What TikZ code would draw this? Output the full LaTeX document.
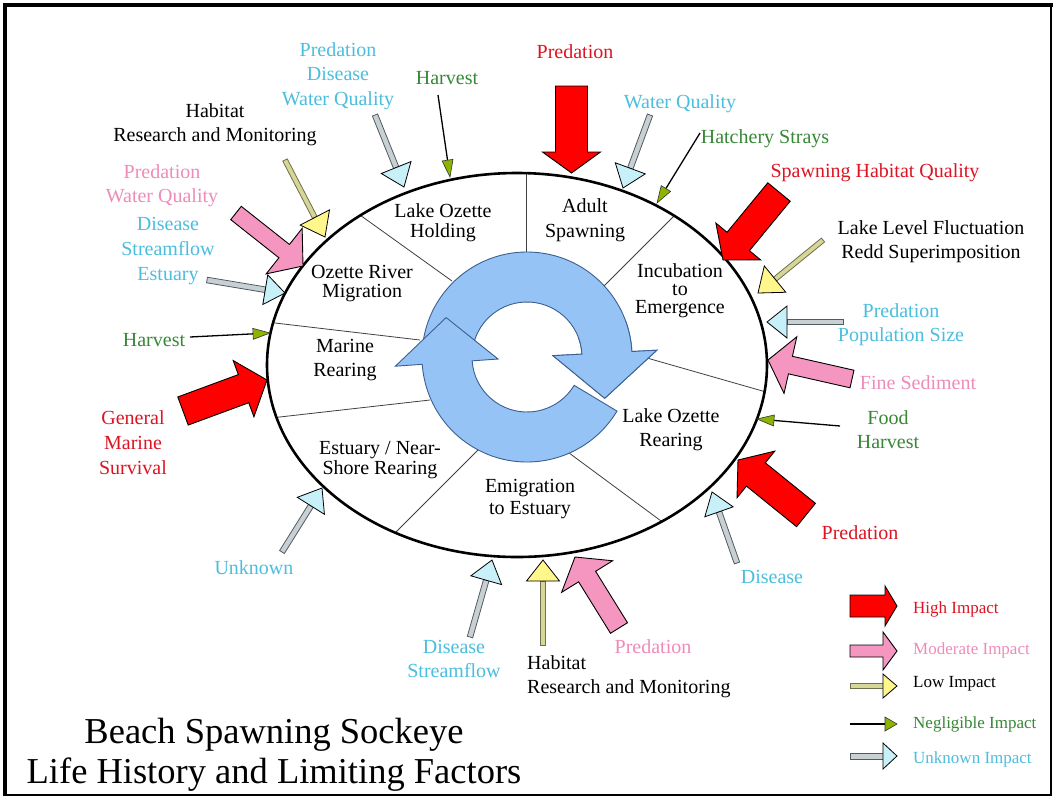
\documentclass[tikz,border=0pt]{standalone}
\usepackage{fontspec}
\setmainfont{Liberation Serif}
\usetikzlibrary{calc}

\definecolor{cred}{RGB}{220,20,35}
\definecolor{cpink}{RGB}{238,140,185}
\definecolor{ccyan}{RGB}{75,190,222}
\definecolor{cgreen}{RGB}{55,135,55}
\definecolor{fred}{RGB}{255,0,0}
\definecolor{fpink}{RGB}{244,150,192}
\definecolor{fyellow}{RGB}{255,246,140}
\definecolor{fkhaki}{RGB}{214,214,150}
\definecolor{dkhaki}{RGB}{110,110,80}
\definecolor{fcyan}{RGB}{200,240,248}
\definecolor{fgrey}{RGB}{200,208,212}
\definecolor{dgrey}{RGB}{80,90,95}
\definecolor{fgreen}{RGB}{140,180,0}
\definecolor{ringblue}{RGB}{150,195,245}
\definecolor{ringline}{RGB}{60,95,145}

% block arrow: style, tail, tip, shaft half width, head half width, head length
\newcommand{\blockarr}[6]{%
  \path ($(#3)!#6!(#2)$) coordinate (bb);
  \draw[#1] ($(#2)!#4!90:(#3)$) -- ($(bb)!#4!90:(#3)$) -- ($(bb)!#5!90:(#3)$) -- (#3)
    -- ($(bb)!#5!-90:(#3)$) -- ($(bb)!#4!-90:(#3)$) -- ($(#2)!#4!-90:(#3)$) -- cycle;}
% two-part arrow: shaft style, head style, tail, tip, shaft half, head half, head length
\newcommand{\twoarr}[7]{%
  \path ($(#4)!#7!(#3)$) coordinate (bb);
  \draw[#1] ($(#3)!#5!90:(#4)$) -- ($(bb)!#5!90:(#4)$) -- ($(bb)!#5!-90:(#4)$) -- ($(#3)!#5!-90:(#4)$) -- cycle;
  \draw[#2] ($(bb)!#6!90:(#4)$) -- (#4) -- ($(bb)!#6!-90:(#4)$) -- cycle;}
% line arrow: tail, tip, head half, head length
\newcommand{\negarr}[4]{%
  \path ($(#2)!#4!(#1)$) coordinate (bb);
  \draw[line width=1.3pt] (#1) -- (bb);
  \draw[neghead] ($(bb)!#3!90:(#2)$) -- (#2) -- ($(bb)!#3!-90:(#2)$) -- cycle;}

\tikzset{
  highst/.style={fill=fred, draw=black, line width=0.9pt, line join=miter},
  modst/.style={fill=fpink, draw=black, line width=0.9pt},
  lowshaft/.style={fill=fkhaki, draw=dkhaki, line width=0.8pt},
  lowhead/.style={fill=fyellow, draw=black, line width=0.8pt},
  unkshaft/.style={fill=fgrey, draw=dgrey, line width=0.8pt},
  unkhead/.style={fill=fcyan, draw=black, line width=0.8pt},
  neghead/.style={fill=fgreen, draw=black!80, line width=0.6pt},
  ringst/.style={fill=ringblue, draw=ringline, line width=0.9pt},
  divline/.style={draw=black!75, line width=0.8pt},
  stage/.style={font=\fontsize{20}{#1}\selectfont, align=center, text=black, inner sep=0pt},
  stage/.default=21,
  lab/.style={font=\fontsize{20}{#1}\selectfont, align=center, inner sep=0pt},
  lab/.default=24,
  leg/.style={font=\fontsize{17}{18}\selectfont, anchor=west, inner sep=0pt}
}

\begin{document}
\begin{tikzpicture}[x=1pt,y=-1pt]
\useasboundingbox (0,0) rectangle (1053,796);
\fill[white] (0,0) rectangle (1053,796);
% frame
\draw[line width=4pt] (5,796) -- (5,5) -- (1053,5);
\draw[line width=2pt] (1051,5) -- (1051,795) -- (5,795);

% dividers
\begin{scope}
\clip (517,365) ellipse [x radius=250, y radius=192];
\draw[divline] (526,160) -- (526,270);
\draw[divline] (686,204) -- (600,290);
\draw[divline] (780,396) -- (640,356);
\draw[divline] (676,532) -- (565,450);
\draw[divline] (386,542) -- (478,450);
\draw[divline] (262,419) -- (430,400);
\draw[divline] (258,321) -- (420,340);
\draw[divline] (346,205) -- (452,281);
\end{scope}

% circular arrows
\begin{scope}[shift={(527,357)}]
\path[ringst] (188:105) arc[start angle=188, end angle=357, radius=105] -- (357:130) -- (388:88)
  -- (357:26) -- (357:55) arc[start angle=357, end angle=188, radius=55] -- cycle;
\path[ringst] (31:105) arc[start angle=31, end angle=176, radius=105] -- (176:132) -- (206:90)
  -- (176:29) -- (176:55) arc[start angle=176, end angle=31, radius=55] -- cycle;
\begin{scope}
\clip (0,0) -- (340:150) arc[start angle=340, end angle=400, radius=150] -- cycle;
\path[ringst] (188:105) arc[start angle=188, end angle=357, radius=105] -- (357:130) -- (388:88)
  -- (357:26) -- (357:55) arc[start angle=357, end angle=188, radius=55] -- cycle;
\end{scope}
\end{scope}

% ellipse
\draw[line width=2.6pt] (517,365) ellipse [x radius=250, y radius=192];

% stage labels
\node[stage=20] (holding) at (443,223) {Lake Ozette\\Holding};
\node[stage=25] (spawning) at (585,220) {Adult\\Spawning};
\node[stage=18] (incub) at (680,291) {Incubation\\to\\Emergence};
\node[stage=19] (river) at (362,284) {Ozette River\\Migration};
\node[stage=24] (marine) at (345,360) {Marine\\Rearing};
\node[stage=17] (estuary) at (380,460) {Estuary / Near-\\Shore Rearing};
\node[stage=22] (emig) at (530,499) {Emigration\\to Estuary};
\node[stage=24] (rearing) at (671,430) {Lake Ozette\\Rearing};

% arrow coordinates
\coordinate (u1) at (571.5,86);  \coordinate (u2) at (571.5,173);
\coordinate (r1) at (779,192);   \coordinate (r2) at (723,260);
\coordinate (g1) at (183,411);   \coordinate (g2) at (267,380);
\coordinate (m1) at (806,515);   \coordinate (m2) at (738,460);
\coordinate (d1) at (236,213);   \coordinate (d2) at (303,266);
\coordinate (o1) at (852,379);   \coordinate (o2) at (768,360);
\coordinate (k1) at (619,628);   \coordinate (k2) at (575,557);
\coordinate (c1) at (285,160);   \coordinate (c2) at (325,237);
\coordinate (q1) at (823,240);   \coordinate (q2) at (758,293);
\coordinate (j1) at (543,645);   \coordinate (j2) at (543,560);
\coordinate (a1) at (375,115);   \coordinate (a2) at (404,187);
\coordinate (e1) at (207,280);   \coordinate (e2) at (285,293);
\coordinate (h1) at (282,552);   \coordinate (h2) at (322,488);
\coordinate (i1) at (470,637);   \coordinate (i2) at (492,560);
\coordinate (l1) at (737,563);   \coordinate (l2) at (712,492);
\coordinate (p1) at (843,322);   \coordinate (p2) at (767,322);
\coordinate (t1) at (650,115);   \coordinate (t2) at (623,188);
\coordinate (b1) at (438,95);    \coordinate (b2) at (450,177);
\coordinate (f1) at (190,337);   \coordinate (f2) at (270,333);
\coordinate (n1) at (840,426);   \coordinate (n2) at (757,419);
\coordinate (s1) at (700,133);   \coordinate (s2) at (657,203);

% high impact
\blockarr{highst}{u1}{u2}{16pt}{29pt}{21pt}
\blockarr{highst}{r1}{r2}{14.5pt}{29pt}{24pt}
\blockarr{highst}{g1}{g2}{15pt}{30pt}{25pt}
\blockarr{highst}{m1}{m2}{15pt}{30pt}{23pt}
% moderate impact
\blockarr{modst}{d1}{d2}{8.5pt}{29pt}{24pt}
\blockarr{modst}{o1}{o2}{9pt}{29pt}{23pt}
\blockarr{modst}{k1}{k2}{10pt}{30pt}{23pt}
% low impact
\twoarr{lowshaft}{lowhead}{c1}{c2}{2.5pt}{16.5pt}{22pt}
\twoarr{lowshaft}{lowhead}{q1}{q2}{2.5pt}{17pt}{22pt}
\twoarr{lowshaft}{lowhead}{j1}{j2}{2.5pt}{16.5pt}{21pt}
% unknown impact
\twoarr{unkshaft}{unkhead}{a1}{a2}{2.8pt}{16pt}{21pt}
\twoarr{unkshaft}{unkhead}{e1}{e2}{2.8pt}{15pt}{20pt}
\twoarr{unkshaft}{unkhead}{h1}{h2}{2.8pt}{16pt}{21pt}
\twoarr{unkshaft}{unkhead}{i1}{i2}{2.8pt}{16pt}{21pt}
\twoarr{unkshaft}{unkhead}{l1}{l2}{2.8pt}{15pt}{21pt}
\twoarr{unkshaft}{unkhead}{p1}{p2}{2.8pt}{16pt}{20pt}
\twoarr{unkshaft}{unkhead}{t1}{t2}{2.8pt}{16pt}{21pt}
% negligible impact
\negarr{b1}{b2}{5.5pt}{17pt}
\negarr{f1}{f2}{5.5pt}{17pt}
\negarr{n1}{n2}{5.5pt}{17pt}
\negarr{s1}{s2}{5.5pt}{17pt}

% factor labels
\node[lab=24.5, text=ccyan] (l01) at (338,76) {Predation\\Disease\\Water Quality};
\node[lab, text=cgreen] (l02) at (447,78) {Harvest};
\node[lab, text=black] (l03) at (215,125) {Habitat\\Research and Monitoring};
\node[lab, text=cpink] (l04) at (162,186) {Predation\\Water Quality};
\node[lab=25, text=ccyan] (l05) at (168,251) {Disease\\Streamflow\\Estuary};
\node[lab, text=cgreen] (l06) at (154,340) {Harvest};
\node[lab=25, text=cred] (l07) at (133,443) {General\\Marine\\Survival};
\node[lab, text=ccyan] (l08) at (254,568) {Unknown};
\node[lab, text=ccyan] (l09) at (454,659) {Disease\\Streamflow};
\node[lab, text=black, align=left, anchor=west] (l10) at (527,677) {Habitat\\Research and Monitoring};
\node[lab, text=cpink] (l11) at (653,647) {Predation};
\node[lab, text=ccyan] (l12) at (772,577) {Disease};
\node[lab, text=cred] (l13) at (860,533) {Predation};
\node[lab, text=cgreen] (l14) at (888,430) {Food\\Harvest};
\node[lab, text=cpink] (l15) at (918,383) {Fine Sediment};
\node[lab, text=ccyan] (l16) at (901,325) {Predation\\Population Size};
\node[lab, text=black] (l17) at (931,242) {Lake Level Fluctuation\\Redd Superimposition};
\node[lab, text=cred] (l18) at (875,173) {Spawning Habitat Quality};
\node[lab, text=cgreen] (l19) at (765,139) {Hatchery Strays};
\node[lab, text=ccyan] (l20) at (680,104) {Water Quality};
\node[lab, text=cred] (l21) at (575,52) {Predation};

% legend
\coordinate (lg1a) at (850,606); \coordinate (lg1b) at (897,606);
\coordinate (lg2a) at (850,651); \coordinate (lg2b) at (897,651);
\coordinate (lg3a) at (850,686); \coordinate (lg3b) at (897,686);
\coordinate (lg4a) at (850,724); \coordinate (lg4b) at (897,724);
\coordinate (lg5a) at (850,756); \coordinate (lg5b) at (897,756);
\blockarr{highst}{lg1a}{lg1b}{11pt}{20pt}{12pt}
\blockarr{modst}{lg2a}{lg2b}{6pt}{19pt}{14pt}
\twoarr{lowshaft}{lowhead}{lg3a}{lg3b}{2.5pt}{12pt}{14pt}
\negarr{lg4a}{lg4b}{7pt}{12pt}
\twoarr{unkshaft}{unkhead}{lg5a}{lg5b}{3pt}{13pt}{14pt}
\node[leg, text=cred] (lt1) at (913,609) {High Impact};
\node[leg, text=cpink] (lt2) at (913,650) {Moderate Impact};
\node[leg, text=black] (lt3) at (913,684) {Low Impact};
\node[leg, text=cgreen] (lt4) at (913,724) {Negligible Impact};
\node[leg, text=ccyan] (lt5) at (913,759) {Unknown Impact};

% title
\node[font=\fontsize{36.5}{40}\selectfont, align=center, inner sep=0pt] (title) at (274,755)
  {Beach Spawning Sockeye\\Life History and Limiting Factors};
\end{tikzpicture}
\end{document}
